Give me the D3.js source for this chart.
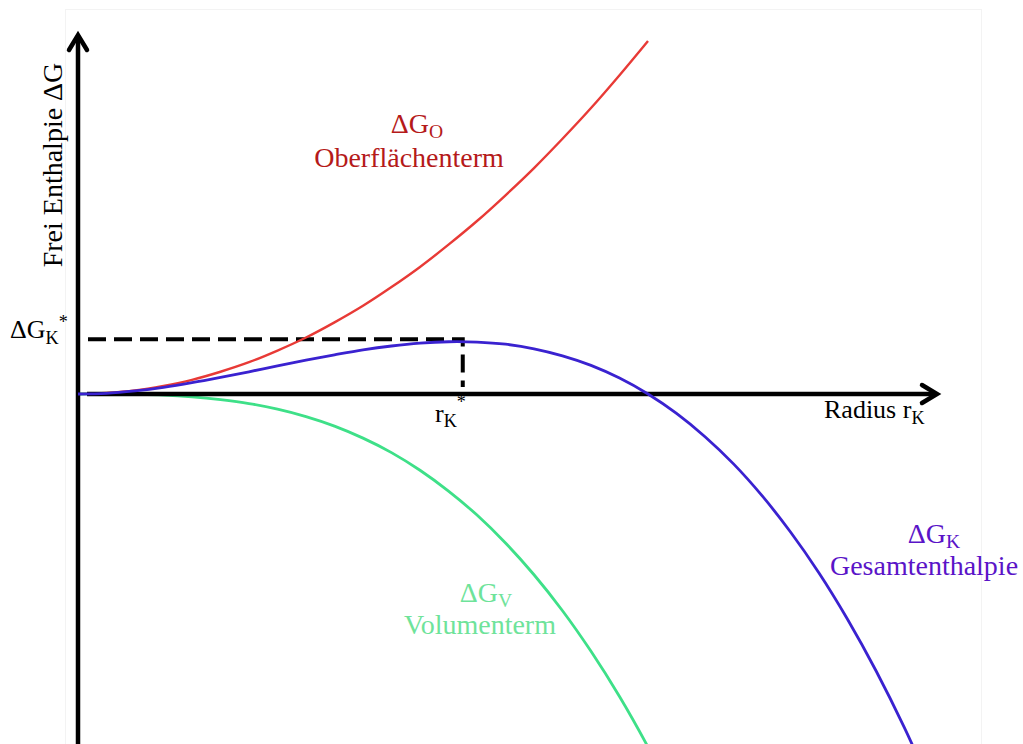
<!DOCTYPE html>
<html>
<head>
<meta charset="utf-8">
<script src="https://cdn.jsdelivr.net/npm/d3@7"></script>
<style>
  body { margin: 0; background: #fff; }
  svg { display: block; }
  text { font-family: "Liberation Serif", "Times New Roman", serif; }
</style>
</head>
<body>
<svg id="chart" width="1023" height="744"></svg>
<script>
// Surface term ΔG_O (grows with r²)
const rSurface = [0, 0.5, 1, 1.5, 2, 2.5, 3, 3.5, 4, 4.5, 5, 5.5, 6, 6.5, 7, 7.5, 8, 8.5, 9, 9.5, 10];
const surfaceTerm = [0, 0.3, 1, 2.3, 4, 6.3, 9, 12.3, 16, 20.3, 25, 30.3, 36, 42.3, 49, 56.3, 64, 72.3, 81, 90.3, 100];

// Volume term ΔG_V (falls with r³)
const rVolume = [0, 0.5, 1, 1.5, 2, 2.5, 3, 3.5, 4, 4.5, 5, 5.5, 6, 6.5, 7, 7.5, 8, 8.5, 9, 9.5, 10, 10.5];
const volumeTerm = [0, 0, -0.1, -0.3, -0.8, -1.6, -2.7, -4.3, -6.4, -9.1, -12.5, -16.6, -21.6, -27.5, -34.3, -42.2, -51.2, -61.4, -72.9, -85.7, -100, -115.8];

// Total enthalpy ΔG_K
const rTotal = [0, 0.5, 1, 1.5, 2, 2.5, 3, 3.5, 4, 4.5, 5, 5.5, 6, 6.5, 7, 7.5, 8, 8.5, 9, 9.5, 10, 10.5, 11, 11.5, 12, 12.5, 13, 13.5, 14, 14.5, 15];
const totalTerm = [0, 0.2, 0.9, 1.9, 3.2, 4.7, 6.3, 8, 9.6, 11.1, 12.5, 13.6, 14.4, 14.8, 14.7, 14.1, 12.8, 10.8, 8.1, 4.5, 0, -5.5, -12.1, -19.8, -28.8, -39.1, -50.7, -63.8, -78.4, -94.6, -112.5];

// Critical nucleus
const rStar = 6.75;
const gStar = 15.5;

const svg = d3.select("#chart");

// faint frame
svg.append("rect")
  .attr("x", 65.5).attr("y", 9.5).attr("width", 916).attr("height", 760)
  .attr("fill", "none").attr("stroke", "#f3f3f3").attr("stroke-width", 1);

const x = d3.scaleLinear().domain([0, 15.07]).range([78, 937]);
const y = d3.scaleLinear().domain([0, 101.7]).range([394, 35]);

const line = d3.line()
  .x(d => x(d[0]))
  .y(d => y(d[1]))
  .curve(d3.curveCatmullRom);

const zip = (a, b) => a.map((v, i) => [v, b[i]]);

// dashed guide to the maximum
svg.append("path")
  .attr("d", `M${x(0) + 10},${y(gStar)}H${x(rStar)}V${y(0) - 7}`)
  .attr("fill", "none").attr("stroke", "#000").attr("stroke-width", 4)
  .attr("stroke-dasharray", "18,8");

// curves
svg.append("path").attr("d", line(zip(rSurface, surfaceTerm)))
  .attr("fill", "none").attr("stroke", "#e83a36").attr("stroke-width", 2.4);
svg.append("path").attr("d", line(zip(rVolume, volumeTerm)))
  .attr("fill", "none").attr("stroke", "#3ee088").attr("stroke-width", 2.8);

// axes
const axisG = svg.append("g").attr("stroke", "#000").attr("fill", "none")
  .attr("stroke-width", 4.5);
axisG.append("line")
  .attr("x1", x(0) + 9).attr("x2", x.range()[1] - 1)
  .attr("y1", y(0)).attr("y2", y(0));
axisG.append("line")
  .attr("x1", x(0)).attr("x2", x(0))
  .attr("y1", 744).attr("y2", y.range()[1] + 1);
// arrow heads
const xt = x.range()[1], yt = y.range()[1];
axisG.append("path")
  .attr("d", `M${xt - 15},${y(0) - 9}L${xt},${y(0)}L${xt - 15},${y(0) + 9}`)
  .attr("stroke-linecap", "round").attr("stroke-linejoin", "miter");
axisG.append("path")
  .attr("d", `M${x(0) - 9},${yt + 15}L${x(0)},${yt}L${x(0) + 9},${yt + 15}`)
  .attr("stroke-linecap", "round").attr("stroke-linejoin", "miter");

svg.append("path").attr("d", line(zip(rTotal, totalTerm)))
  .attr("fill", "none").attr("stroke", "#3a22d0").attr("stroke-width", 2.8);

// text helper: main text with sub/superscripts as tspans
function label(xp, yp, parts, opts) {
  const t = svg.append("text")
    .attr("x", xp).attr("y", yp)
    .attr("fill", opts.color)
    .attr("font-size", opts.size)
    .attr("text-anchor", opts.anchor || "start");
  parts.forEach(p => {
    const s = t.append("tspan").text(p.t);
    if (p.sub) s.attr("font-size", opts.size * 0.7);
    if (p.dy) s.attr("dy", p.dy);
  });
  return t;
}

// y axis title
svg.append("text")
  .attr("transform", "translate(62,165) rotate(-90)")
  .attr("text-anchor", "middle")
  .attr("font-size", 28)
  .attr("fill", "#000")
  .text("Frei Enthalpie ΔG");

// ΔG_K*
label(10, 338, [{t: "ΔG"}, {t: "K", sub: true, dy: 6}, {t: "*", sub: true, dy: -16}], {color: "#000", size: 26});
// r_K*
label(435, 422, [{t: "r"}, {t: "K", sub: true, dy: 5}, {t: "*", sub: true, dy: -19}], {color: "#000", size: 26});
// Radius r_K
label(824, 418, [{t: "Radius r"}, {t: "K", sub: true, dy: 6}], {color: "#000", size: 26});

// ΔG_O / Oberflächenterm
label(417, 133, [{t: "ΔG"}, {t: "O", sub: true, dy: 5}], {color: "#b51a1a", size: 28, anchor: "middle"});
label(409, 167, [{t: "Oberflächenterm"}], {color: "#b51a1a", size: 28, anchor: "middle"});

// ΔG_V / Volumenterm
label(486, 602, [{t: "ΔG"}, {t: "V", sub: true, dy: 5}], {color: "#6ee39a", size: 28, anchor: "middle"});
label(480, 634, [{t: "Volumenterm"}], {color: "#6ee39a", size: 28, anchor: "middle"});

// ΔG_K / Gesamtenthalpie
label(934, 543, [{t: "ΔG"}, {t: "K", sub: true, dy: 5}], {color: "#5a14c8", size: 28, anchor: "middle"});
label(924, 575, [{t: "Gesamtenthalpie"}], {color: "#5a14c8", size: 28, anchor: "middle"});
</script>
</body>
</html>
